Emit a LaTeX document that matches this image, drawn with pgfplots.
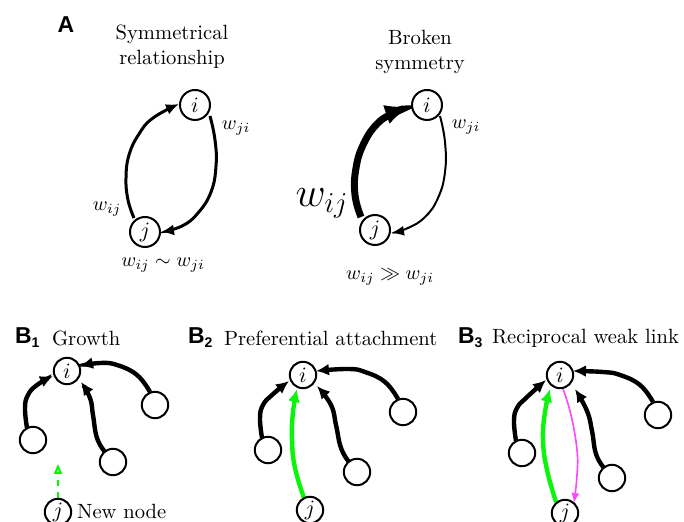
\documentclass[border=0pt]{standalone}
\usepackage{fontspec}
\usepackage{amssymb}
\usepackage{pgfplots}
\pgfplotsset{compat=1.18}
\usetikzlibrary{arrows.meta}
\newfontfamily\labfont{Liberation Sans}
\definecolor{lgreen}{RGB}{10,245,10}
\definecolor{lmag}{RGB}{255,70,255}
\begin{document}
\begin{tikzpicture}
\begin{axis}[
  name=ax,
  scale only axis, width=342pt, height=261pt,
  xmin=0, xmax=684, ymin=0, ymax=522, y dir=reverse,
  axis lines=none, xtick=\empty, ytick=\empty, clip=true,
  every axis plot/.append style={tension=0.75},
]
% ---------- Panel A, left ----------
\addplot[black, line width=1.5pt, smooth, -{Latex[length=6.5pt,width=5.5pt]}] coordinates
  {(134,218) (128,200) (126,178) (129,155) (139,134) (153,118) (179,104)};
\addplot[black, line width=1.5pt, smooth, -{Latex[length=6.5pt,width=5.5pt]}] coordinates
  {(210,116) (215,140) (216,166) (211,192) (198,213) (182,226) (161,232)};
% ---------- Panel A, right ----------
\addplot[black, line width=3.5pt, smooth, -{Latex[length=13pt,width=10pt]}] coordinates
  {(361,217) (355,195) (356,168) (364,143) (378,123) (394,113) (411,106)};
\addplot[black, line width=1pt, smooth, -{Latex[length=6.5pt,width=5pt]}] coordinates
  {(440,116) (445,142) (445,172) (438,198) (425,217) (408,228) (391,233)};
% ---------- Panel B1 ----------
\addplot[black, line width=2.2pt, smooth, -{Latex[length=6.5pt,width=6pt]}] coordinates
  {(27,428) (25,408) (28,395) (37,385) (53,376)};
\addplot[black, line width=2.2pt, smooth, -{Latex[length=6.5pt,width=6pt]}] coordinates
  {(105,452) (97,438) (93,415) (90,398) (81,382)};
\addplot[black, line width=2.2pt, smooth, -{Latex[length=6.5pt,width=6pt]}] coordinates
  {(150,392) (137,375) (117,365) (100,363) (80,366)};
\addplot[lgreen, line width=1pt, dashed, -{Triangle[open,length=5pt,width=4pt]}] coordinates
  {(58,498) (58,464)};
% ---------- Panel B2 ----------
\addplot[black, line width=2.2pt, smooth, -{Latex[length=6.5pt,width=6pt]}] coordinates
  {(262,438) (260,418) (263,405) (272,395) (289,381)};
\addplot[black, line width=2.2pt, smooth, -{Latex[length=6.5pt,width=6pt]}] coordinates
  {(349,462) (341,448) (336,425) (331,405) (317,386)};
\addplot[black, line width=2.2pt, smooth, -{Latex[length=6.5pt,width=6pt]}] coordinates
  {(398,399) (385,382) (365,372) (348,369) (316,371)};
\addplot[lgreen, line width=2.2pt, smooth, -{Latex[length=6.5pt,width=6pt]}] coordinates
  {(304,498) (295,468) (292,440) (293,412) (297,389)};
% ---------- Panel B3 ----------
\addplot[black, line width=2.2pt, smooth, -{Latex[length=6.5pt,width=6pt]}] coordinates
  {(516,441) (514,421) (517,408) (526,398) (546,380)};
\addplot[black, line width=2.2pt, smooth, -{Latex[length=6.5pt,width=6pt]}] coordinates
  {(604,468) (596,454) (592,431) (587,411) (575,389)};
\addplot[black, line width=2.2pt, smooth, -{Latex[length=6.5pt,width=6pt]}] coordinates
  {(653,402) (640,385) (620,375) (603,372) (573,371)};
\addplot[lgreen, line width=2.2pt, smooth, -{Latex[length=6.5pt,width=6pt]}] coordinates
  {(556,502) (547,470) (543,440) (545,412) (550,389)};
\addplot[lmag, line width=0.8pt, smooth, -{Latex[length=5pt,width=4pt]}] coordinates
  {(563,389) (571,415) (577,450) (577,475) (574,503)};
% ---------- Nodes ----------
\addplot[only marks, mark=*, mark size=7.5pt, mark options={fill=white, draw=black, line width=1pt}] coordinates
  {(195,105) (145,232) (427,105) (375,230)};
\addplot[only marks, mark=*, mark size=6.6pt, mark options={fill=white, draw=black, line width=1pt}] coordinates
  {(67,371) (33,440) (113,462) (155,405) (58,512)
   (303,375) (268,450) (357,472) (403,412) (310,510)
   (560,375) (522,453) (612,478) (658,415) (565,513)};
% ---------- Node labels ----------
\addplot[only marks, mark=none, nodes near coords, point meta=explicit symbolic,
  nodes near coords align=center,
  every node near coord/.append style={anchor=center, inner sep=0pt, font=\fontsize{11}{12}\selectfont}] coordinates
  {(195,105)[$i$] (145,232)[$j$] (427,105)[$i$] (375,230)[$j$]
   (67,371)[$i$] (58,512)[$j$] (303,375)[$i$] (310,510)[$j$]
   (560,375)[$i$] (565,513)[$j$]};
% ---------- Texts ----------
\node[font=\labfont\bfseries\fontsize{11.5}{12}\selectfont] at (axis cs:66,25) {A};
\node[align=center, font=\fontsize{10.3}{12.5}\selectfont] at (axis cs:172,47) {Symmetrical\\relationship};
\node[align=center, font=\fontsize{10.3}{12.5}\selectfont] at (axis cs:420,52) {Broken\\symmetry};
\node at (axis cs:236,128) {$w_{ji}$};
\node at (axis cs:107,209) {$w_{ij}$};
\node at (axis cs:163,265) {$w_{ij}\sim w_{ji}$};
\node at (axis cs:466,127) {$w_{ji}$};
\node[font=\fontsize{20}{24}\selectfont] at (axis cs:322,203) {$w_{ij}$};
\node at (axis cs:390,277) {$w_{ij}\gg w_{ji}$};
\node[font=\labfont\bfseries\fontsize{11.5}{12}\selectfont, anchor=west] at (axis cs:8,338) {B\raisebox{-2pt}{\fontsize{7}{8}\selectfont 1}};
\node[font=\fontsize{10.3}{12}\selectfont, anchor=west] at (axis cs:45,338) {Growth};
\node[font=\fontsize{10.3}{12}\selectfont, anchor=west] at (axis cs:70,511) {New node};
\node[font=\labfont\bfseries\fontsize{11.5}{12}\selectfont, anchor=west] at (axis cs:181,338) {B\raisebox{-2pt}{\fontsize{7}{8}\selectfont 2}};
\node[font=\fontsize{10.3}{12}\selectfont, anchor=west] at (axis cs:217,338) {Preferential attachment};
\node[font=\labfont\bfseries\fontsize{11.5}{12}\selectfont, anchor=west] at (axis cs:451,338) {B\raisebox{-2pt}{\fontsize{7}{8}\selectfont 3}};
\node[font=\fontsize{10.3}{12}\selectfont, anchor=west] at (axis cs:485,338) {Reciprocal weak link};
\end{axis}
\pgfresetboundingbox
\path[use as bounding box] (ax.south west) rectangle (ax.north east);
\end{tikzpicture}
\end{document}
